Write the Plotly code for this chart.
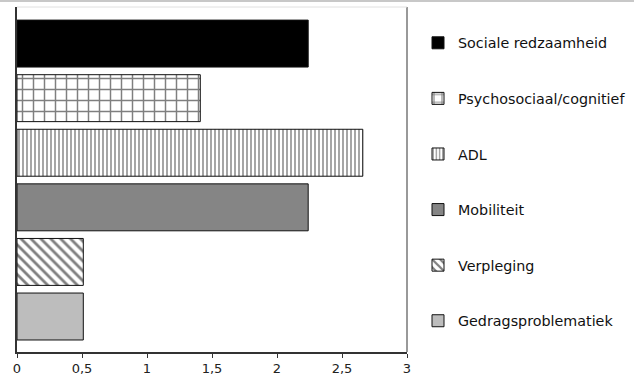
import plotly.graph_objects as go

categories = ["Sociale redzaamheid", "Psychosociaal/cognitief", "ADL", "Mobiliteit", "Verpleging", "Gedragsproblematiek"]
values = [2.24, 1.41, 2.66, 2.24, 0.51, 0.51]
fill_colors = ["#000000", "#ffffff", "#ffffff", "#858585", "#ffffff", "#bdbdbd"]
pattern_shapes = ["", "+", "|", "", "\\", ""]
pattern_sizes = [8, 11, 4, 8, 7, 8]
pattern_solidity = [0.3, 0.25, 0.35, 0.3, 0.4, 0.3]
x_ticks = [0, 0.5, 1, 1.5, 2, 2.5, 3]

L, R, T, B = 17, 227, 7, 26
W, H = 634, 378
pw, ph = W - L - R, H - T - B

fig = go.Figure()
for i, (cat, val) in enumerate(zip(categories, values)):
    fig.add_trace(go.Bar(
        y=[cat], x=[val], orientation="h", name=cat,
        legendgroup=cat,
        marker=dict(color=fill_colors[i],
                    line=dict(color="#111111", width=1),
                    pattern=dict(shape=pattern_shapes[i], fgcolor="#000000",
                                 bgcolor=fill_colors[i], size=pattern_sizes[i],
                                 solidity=pattern_solidity[i])),
    ))

fig.update_layout(
    width=W, height=H,
    margin=dict(l=L, r=R, t=T, b=B, autoexpand=False),
    paper_bgcolor="white", plot_bgcolor="white",
    barmode="overlay", bargap=0.14,
    separators=", ",
    font=dict(family="DejaVu Sans", size=13, color="#222222"),
    showlegend=True,
    legend=dict(x=(418 - L) / pw, y=1 - (27 - T) / ph, xanchor="left", yanchor="top",
                traceorder="grouped", tracegroupgap=34,
                font=dict(family="DejaVu Sans", size=14.3, color="#111111"),
                itemwidth=30),
    xaxis=dict(range=[0, 3], tickvals=x_ticks, ticks="outside", ticklen=4,
               tickcolor="#333333", showgrid=False, zeroline=False,
               showline=True, linecolor="#333333", linewidth=1.5,
               automargin=False,
               tickfont=dict(family="DejaVu Sans", size=13, color="#222222")),
    yaxis=dict(range=[5.65, -0.67], showticklabels=False, ticks="",
               showgrid=False, showline=True, linecolor="#333333", linewidth=1.5,
               automargin=False),
    shapes=[
        dict(type="line", xref="paper", yref="paper", x0=1, x1=1, y0=0, y1=1,
             line=dict(color="#999999", width=2)),
        dict(type="line", xref="paper", yref="paper", x0=0, x1=1, y0=1, y1=1,
             line=dict(color="#e0e0e0", width=1)),
        dict(type="line", xref="paper", yref="paper", x0=-L / pw, x1=(W - L) / pw,
             y0=1 + (T - 1) / ph, y1=1 + (T - 1) / ph,
             line=dict(color="#c8c8c8", width=2)),
    ],
)

fig.write_html("out.html",
               config={"displayModeBar": False},
               post_script="document.body.style.margin='0px';document.body.style.overflow='hidden';")
